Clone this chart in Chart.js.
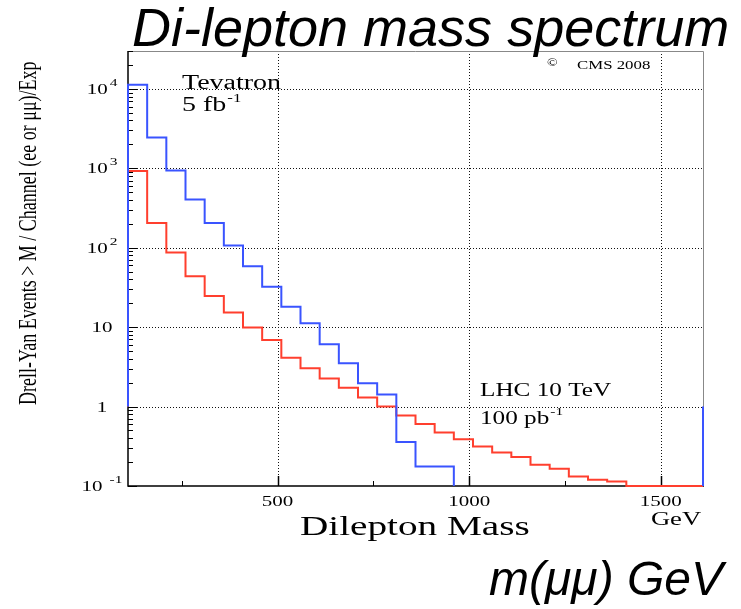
<!DOCTYPE html>
<html><head><meta charset="utf-8">
<script src="https://cdn.jsdelivr.net/npm/chart.js@4/dist/chart.umd.min.js"></script>
<style>html,body{margin:0;padding:0;background:#fff;}canvas{display:block}</style>
</head><body>
<canvas id="c" width="741" height="609"></canvas>
<script>
// ---- data ----
const massBins = [110,160,210,260,310,360,410,460,510,560,610,660,710,760,810,860,910,960,1010,1060,1110,1160,1210,1260,1310,1360,1410,1460,1510,1560];
const massMax = 1610;
// Tevatron 5 fb^-1 (blue); null = no entries drawn
const tevatron = [11300,2450,940,405,205,107,58.6,32.2,18.1,11.2,6.1,3.5,1.97,1.42,0.357,0.176,0.176,null,null,null,null,null,null,null,null,null,null,null,null,null];
// LHC 10 TeV 100 pb^-1 (red); 0 = drawn on the axis
const lhc = [922,205,87,43.9,24.6,15.3,9.9,6.9,4.13,3.04,2.25,1.73,1.30,1.0,0.77,0.605,0.471,0.389,0.314,0.264,0.231,0.185,0.165,0.132,0.120,0.114,0,0,0,0];
const histBaseline = 1;
const yMin = 0.1, yMax = 30000;
const yTicks = [0.1,1,10,100,1000,10000];
const yTickMantissa = ['10','1','10','10','10','10'];
const yTickExponent = ['-1','','','2','3','4'];
const xTicks = [500,1000,1500];
const xTickLabels = ['500','1000','1500'];
const xMinorTicks = [250,750,1250];

// points at bin edges; each segment [x_i, x_{i+1}] carries value y_{i+1}
function buildSteps(values, closeRight) {
  const pts = [{x: massBins[0], y: histBaseline}];
  for (let i = 0; i < values.length; i++) {
    const v = values[i];
    const hi = i + 1 < massBins.length ? massBins[i + 1] : massMax;
    if (v === null) {
      pts.push({x: massBins[i], y: yMin});
      pts.push({x: hi, y: null});
      break;
    }
    if (i === 0) pts.push({x: massBins[0], y: v});
    pts.push({x: hi, y: v === 0 ? yMin : v});
    const next = values[i + 1];
    if (next !== undefined && next !== null) pts.push({x: hi, y: next === 0 ? yMin : next});
  }
  if (closeRight) {
    pts.push({x: massMax, y: yMin});
    pts.push({x: massMax, y: histBaseline});
  }
  return pts;
}

const S = 1.4; // horizontal stretch of the original plot texts
const SERIF = '"Liberation Serif", "Times New Roman", serif';
const SANS = '"Liberation Sans", Arial, sans-serif';

function stext(ctx, text, x, y, size, align, style) {
  ctx.font = (style || '') + ' ' + size + 'px ' + SERIF;
  const w = ctx.measureText(text).width * S;
  let left = x;
  if (align === 'center') left = x - w / 2;
  else if (align === 'right') left = x - w;
  ctx.save();
  ctx.translate(left, y);
  ctx.scale(S, 1);
  ctx.textAlign = 'left';
  ctx.textBaseline = 'alphabetic';
  ctx.fillText(text, 0, 0);
  ctx.restore();
  return left + w;
}

const decor = {
  id: 'decor',
  beforeDatasetsDraw(chart) {
    const {ctx, chartArea: a, scales: {x, y}} = chart;
    ctx.save();
    ctx.strokeStyle = '#111';
    ctx.lineWidth = 1;
    ctx.setLineDash([1, 2]);
    yTicks.forEach(v => {
      if (v <= yMin) return;
      const py = Math.round(y.getPixelForValue(v)) + 0.5;
      ctx.beginPath(); ctx.moveTo(a.left, py); ctx.lineTo(a.right, py); ctx.stroke();
    });
    xTicks.forEach(v => {
      const px = Math.round(x.getPixelForValue(v)) + 0.5;
      ctx.beginPath(); ctx.moveTo(px, a.top); ctx.lineTo(px, a.bottom); ctx.stroke();
    });
    ctx.setLineDash([]);
    // frame
    ctx.strokeStyle = '#888';
    ctx.beginPath(); ctx.moveTo(a.left, a.top + 0.5); ctx.lineTo(a.right + 0.5, a.top + 0.5); ctx.lineTo(a.right + 0.5, a.bottom); ctx.stroke();
    ctx.strokeStyle = '#000';
    ctx.lineWidth = 1.5;
    ctx.beginPath(); ctx.moveTo(a.left, a.top); ctx.lineTo(a.left, a.bottom); ctx.lineTo(a.right + 1, a.bottom); ctx.stroke();
    // y ticks
    ctx.lineWidth = 1;
    for (let e = -1; e <= 4; e++) {
      for (let k = 1; k <= 9; k++) {
        const v = k * Math.pow(10, e);
        if (v < yMin || v > yMax) continue;
        const py = Math.round(y.getPixelForValue(v)) + 0.5;
        const len = k === 1 ? 9 : 5;
        ctx.beginPath(); ctx.moveTo(a.left, py); ctx.lineTo(a.left + len, py); ctx.stroke();
      }
    }
    // x ticks
    ctx.lineWidth = 1.5;
    xTicks.forEach(v => {
      const px = Math.round(x.getPixelForValue(v)) + 0.5;
      ctx.beginPath(); ctx.moveTo(px, a.bottom); ctx.lineTo(px, a.bottom - 10); ctx.stroke();
    });
    ctx.lineWidth = 1;
    xMinorTicks.forEach(v => {
      const px = Math.round(x.getPixelForValue(v)) + 0.5;
      ctx.beginPath(); ctx.moveTo(px, a.bottom); ctx.lineTo(px, a.bottom - 5); ctx.stroke();
    });
    ctx.restore();
  },
  afterDraw(chart) {
    const {ctx, chartArea: a, scales: {x, y}} = chart;
    ctx.save();
    ctx.fillStyle = '#000';
    // y tick labels
    yTicks.forEach((v, i) => {
      const py = y.getPixelForValue(v);
      const m = yTickMantissa[i], ex = yTickExponent[i];
      ctx.font = '15px ' + SERIF;
      const wm = ctx.measureText(m).width * S;
      ctx.font = '11px ' + SERIF;
      const gap = ex ? (ex.length > 1 ? 7 : 2) : 0;
      const we = ex ? ctx.measureText(ex).width * S + gap : 0;
      const left = 102 - (wm + we) / 2;
      stext(ctx, m, left, py + 5, 15, 'left');
      if (ex) stext(ctx, ex, left + wm + gap, py - 3, 11, 'left');
    });
    // x tick labels
    xTicks.forEach((v, i) => {
      stext(ctx, xTickLabels[i], x.getPixelForValue(v), a.bottom + 20, 15, 'center');
    });
    stext(ctx, 'GeV', 676, a.bottom + 39, 19, 'center');
    stext(ctx, 'Dilepton Mass', 300, a.bottom + 49, 28, 'left');
    // annotations
    stext(ctx, 'Tevatron', 182, 89, 20, 'left');
    let e1 = stext(ctx, '5 fb', 182, 111, 20, 'left');
    stext(ctx, '-1', e1 + 1, 102, 12, 'left');
    stext(ctx, 'LHC 10 TeV', 480, 396, 18, 'left');
    let e2 = stext(ctx, '100 pb', 480, 424, 18, 'left');
    stext(ctx, '-1', e2 + 1, 415, 11, 'left');
    stext(ctx, '\u00A9', 547, 66, 10, 'left');
    stext(ctx, 'CMS 2008', 577, 69, 12, 'left');
    // y axis title (rotated, glyphs stretched across the text direction)
    ctx.save();
    ctx.translate(36, 405);
    ctx.rotate(-Math.PI / 2);
    ctx.scale(1, S);
    ctx.font = '18px ' + SERIF;
    ctx.textAlign = 'left';
    ctx.fillText('Drell-Yan Events > M / Channel (ee or \u03BC\u03BC)/Exp', 0, 0);
    ctx.restore();
    // overlay titles
    ctx.font = 'italic 54px ' + SANS;
    ctx.textAlign = 'left';
    ctx.fillText('Di-lepton mass spectrum', 132, 46);
    ctx.font = 'italic 48px ' + SANS;
    ctx.textAlign = 'right';
    ctx.fillText('m(\u03BC\u03BC) GeV', 723, 595);
    ctx.restore();
  }
};

new Chart(document.getElementById('c'), {
  type: 'line',
  data: {
    datasets: [
      {label: 'Tevatron 5 fb-1', data: buildSteps(tevatron, true), borderColor: '#3a54ff', borderWidth: 2, pointRadius: 0, fill: false, spanGaps: false, clip: false, tension: 0},
      {label: 'LHC 10 TeV 100 pb-1', data: buildSteps(lhc, false), borderColor: '#ff3f2e', borderWidth: 2, pointRadius: 0, fill: false, spanGaps: false, clip: false, tension: 0}
    ]
  },
  options: {
    responsive: false,
    animation: false,
    layout: {padding: {left: 128, top: 51, right: 38, bottom: 123}},
    plugins: {legend: {display: false}, tooltip: {enabled: false}},
    scales: {
      x: {type: 'linear', min: 110, max: massMax, display: false},
      y: {type: 'logarithmic', min: yMin, max: yMax, display: false}
    }
  },
  plugins: [decor]
});
</script>
</body></html>
